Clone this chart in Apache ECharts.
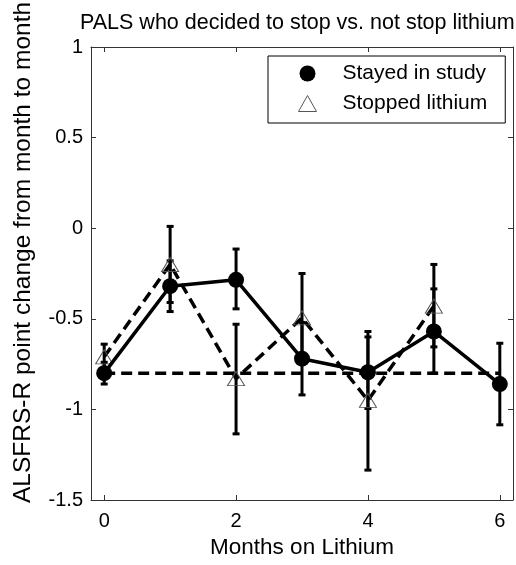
<!DOCTYPE html>
<html>
<head>
<meta charset="utf-8">
<script src="https://cdn.jsdelivr.net/npm/echarts@6/dist/echarts.min.js"></script>
<style>
  html, body { margin: 0; padding: 0; background: #fff; }
  #chart { width: 516px; height: 565px; }
</style>
</head>
<body>
<div id="chart"></div>
<script>
// months on lithium
var months = [0, 1, 2, 3, 4, 5, 6];
var xTicks = [0, 2, 4, 6];

// stayed in study: mean and error bar ends
var stayedMean = [-0.80, -0.32, -0.285, -0.72, -0.795, -0.57, -0.86];
var stayedLow  = [-0.86, -0.46, -0.445, -0.92, -0.995, -0.80, -1.085];
var stayedHigh = [-0.74, -0.18, -0.115, -0.52, -0.60, -0.335, -0.635];

// stopped lithium (months 0..5)
var stoppedMean = [-0.71, -0.20, -0.83, -0.495, -0.95, -0.43];
var stoppedLow  = [-0.78, -0.41, -1.135, -0.745, -1.335, -0.655];
var stoppedHigh = [-0.64, 0.01, -0.53, -0.25, -0.57, -0.20];

// dashed reference level
var refLevel = -0.80;
var refRange = [0, 6];

var font = '"Liberation Sans", Arial, Helvetica, sans-serif';

function pairs(xs, ys) {
  var out = [];
  for (var i = 0; i < ys.length; i++) out.push([xs[i], ys[i]]);
  return out;
}
function errData(xs, lo, hi) {
  var out = [];
  for (var i = 0; i < lo.length; i++) out.push([xs[i], lo[i], hi[i]]);
  return out;
}

function renderErr(params, api) {
  var x = api.value(0);
  var p1 = api.coord([x, api.value(1)]);
  var p2 = api.coord([x, api.value(2)]);
  var hw = 3.5;
  var st = { stroke: '#000', lineWidth: 3 };
  return {
    type: 'group',
    children: [
      { type: 'line', shape: { x1: p1[0], y1: p1[1], x2: p2[0], y2: p2[1] }, style: st },
      { type: 'line', shape: { x1: p1[0] - hw, y1: p1[1], x2: p1[0] + hw, y2: p1[1] }, style: st },
      { type: 'line', shape: { x1: p2[0] - hw, y1: p2[1], x2: p2[0] + hw, y2: p2[1] }, style: st }
    ]
  };
}

var axisLine = { show: true, onZero: false, lineStyle: { color: '#333', width: 1 } };

var option = {
  animation: false,
  backgroundColor: '#fff',
  textStyle: { fontFamily: font },
  title: {
    text: 'PALS who decided to stop vs. not stop lithium',
    left: 75,
    top: 7,
    textStyle: { fontFamily: font, fontSize: 21.5, fontWeight: 'normal', color: '#000' }
  },
  grid: { left: 91, right: 3, top: 47, bottom: 65 },
  legend: {
    orient: 'vertical',
    left: 268,
    top: 56,
    padding: [7, 18, 9, 30],
    itemGap: 9,
    itemWidth: 18,
    itemHeight: 16,
    symbolKeepAspect: true,
    backgroundColor: '#fff',
    borderColor: '#000',
    borderWidth: 1,
    borderRadius: 0,
    selectedMode: false,
    textStyle: { fontFamily: font, fontSize: 21, color: '#000', lineHeight: 21, padding: [0, 0, 0, 21] },
    data: [
      { name: 'Stayed in study', icon: 'circle', itemStyle: { color: '#000' } },
      { name: 'Stopped lithium', icon: 'triangle',
        itemStyle: { color: 'rgba(0,0,0,0)', borderColor: '#555', borderWidth: 1 } }
    ]
  },
  xAxis: [{
    type: 'value',
    min: -0.2,
    max: 6.2,
    name: 'Months on Lithium',
    nameLocation: 'middle',
    nameGap: 36,
    nameTextStyle: { fontFamily: font, fontSize: 22.5, color: '#000' },
    axisLine: axisLine,
    axisTick: { show: true, inside: true, length: 5, customValues: xTicks, lineStyle: { color: '#333' } },
    axisLabel: { customValues: xTicks, margin: 11, fontFamily: font, fontSize: 20, color: '#000' },
    splitLine: { show: false }
  }, {
    type: 'value',
    position: 'top',
    min: -0.2,
    max: 6.2,
    axisLine: axisLine,
    axisTick: { show: true, inside: true, length: 5, customValues: xTicks, lineStyle: { color: '#333' } },
    axisLabel: { show: false },
    splitLine: { show: false }
  }],
  yAxis: [{
    type: 'value',
    min: -1.5,
    max: 1,
    interval: 0.5,
    axisLine: axisLine,
    axisTick: { show: true, inside: true, length: 5, lineStyle: { color: '#333' } },
    axisLabel: { margin: 8, fontFamily: font, fontSize: 20, color: '#000' },
    splitLine: { show: false }
  }, {
    type: 'value',
    position: 'right',
    min: -1.5,
    max: 1,
    interval: 0.5,
    axisLine: axisLine,
    axisTick: { show: true, inside: true, length: 5, lineStyle: { color: '#333' } },
    axisLabel: { show: false },
    splitLine: { show: false }
  }],
  graphic: [{
    type: 'text',
    x: 23,
    y: 503,
    rotation: Math.PI / 2,
    style: {
      text: 'ALSFRS-R point change from month to month',
      font: '24.5px ' + font,
      fill: '#000',
      textAlign: 'left',
      textVerticalAlign: 'middle'
    }
  }],
  series: [
    {
      name: 'reference',
      type: 'line',
      z: 3,
      data: [[refRange[0], refLevel], [refRange[1], refLevel]],
      symbol: 'none',
      lineStyle: { color: '#000', width: 3.5, type: [11, 6] },
      silent: true
    },
    {
      name: 'stayed err',
      type: 'custom',
      z: 2,
      renderItem: renderErr,
      data: errData(months, stayedLow, stayedHigh),
      silent: true
    },
    {
      name: 'stopped err',
      type: 'custom',
      z: 2,
      renderItem: renderErr,
      data: errData(months, stoppedLow, stoppedHigh),
      silent: true
    },
    {
      name: 'Stopped lithium',
      type: 'line',
      z: 4,
      data: pairs(months, stoppedMean),
      symbol: 'triangle',
      symbolSize: [17, 14],
      itemStyle: { color: 'rgba(0,0,0,0)', borderColor: '#555', borderWidth: 1 },
      lineStyle: { color: '#000', width: 3.5, type: [11, 6] }
    },
    {
      name: 'Stayed in study',
      type: 'line',
      z: 5,
      data: pairs(months, stayedMean),
      symbol: 'circle',
      symbolSize: 16,
      itemStyle: { color: '#000' },
      lineStyle: { color: '#000', width: 3.5 }
    }
  ]
};

var myChart = echarts.init(document.getElementById('chart'));
myChart.setOption(option);
</script>
</body>
</html>
